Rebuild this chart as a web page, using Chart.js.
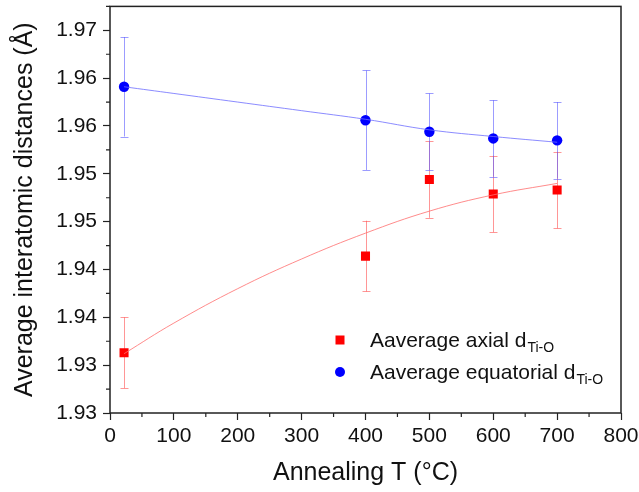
<!DOCTYPE html>
<html>
<head>
<meta charset="utf-8">
<script src="https://cdn.jsdelivr.net/npm/chart.js@4.4.1/dist/chart.umd.min.js"></script>
<style>
  html, body { margin: 0; padding: 0; background: #fff; }
  #wrap { width: 639px; height: 492px; }
</style>
</head>
<body>
<div id="wrap"><canvas id="chart" width="639" height="492"></canvas></div>
<script>
// waarden
const temps = [22, 400, 500, 600, 700];
const axial = [1.9313, 1.9414, 1.9494, 1.9479, 1.9483];
const axialErr = [0.0037, 0.0037, 0.0040, 0.0040, 0.0040];
const equatorial = [1.9591, 1.9556, 1.9544, 1.9537, 1.9535];
const equatorialErr = [0.0052, 0.0052, 0.0040, 0.0040, 0.0040];

// fit-lijnen
const fitT = [22, 100, 200, 300, 400, 500, 600, 700];
const axialFit = [1.9312, 1.9344, 1.9380, 1.9411, 1.9438, 1.9461, 1.9478, 1.9490];
const equatorialFit = [1.9591, 1.9584, 1.9575, 1.9566, 1.9557, 1.9546, 1.9539, 1.9533];

// as-labels
const yTickValues = [1.925, 1.930, 1.935, 1.940, 1.945, 1.950, 1.955, 1.960, 1.965];
const yTickLabels = ['1.93', '1.93', '1.94', '1.94', '1.95', '1.95', '1.96', '1.96', '1.97'];
const xTickValues = [0, 100, 200, 300, 400, 500, 600, 700, 800];

const legendItems = [
  { text: 'Aaverage axial d', sub: 'Ti-O', color: '#ff0000', shape: 'rect' },
  { text: 'Aaverage equatorial d', sub: 'Ti-O', color: '#0000ff', shape: 'circle' }
];

const FONT = '"Liberation Sans", Arial, sans-serif';

function pts(xs, ys) {
  return xs.map((x, i) => ({ x: x, y: ys[i] }));
}

// foutbalken, kader, kleine streepjes en legenda
const extras = {
  id: 'extras',
  beforeDatasetsDraw(chart) {
    const c = chart.ctx;
    const xs = chart.scales.x, ys = chart.scales.y;
    const bars = [
      { vals: axial, err: axialErr, color: 'rgba(255,80,80,0.6)' },
      { vals: equatorial, err: equatorialErr, color: 'rgba(90,90,255,0.6)' }
    ];
    c.save();
    c.lineWidth = 1;
    bars.forEach(b => {
      c.strokeStyle = b.color;
      temps.forEach((t, i) => {
        const px = Math.round(xs.getPixelForValue(t)) + 0.5;
        const top = ys.getPixelForValue(b.vals[i] + b.err[i]);
        const bot = ys.getPixelForValue(b.vals[i] - b.err[i]);
        c.beginPath();
        c.moveTo(px, top); c.lineTo(px, bot);
        c.moveTo(px - 4, Math.round(top) + 0.5); c.lineTo(px + 4, Math.round(top) + 0.5);
        c.moveTo(px - 4, Math.round(bot) + 0.5); c.lineTo(px + 4, Math.round(bot) + 0.5);
        c.stroke();
      });
    });
    c.restore();
  },
  afterDraw(chart) {
    const c = chart.ctx;
    const a = chart.chartArea;
    const xs = chart.scales.x, ys = chart.scales.y;
    c.save();
    c.strokeStyle = '#222';
    c.lineWidth = 1.5;
    c.strokeRect(a.left, a.top, a.right - a.left, a.bottom - a.top);
    c.lineWidth = 1.2;
    c.beginPath();
    for (let i = 0; i < xTickValues.length - 1; i++) {
      const px = xs.getPixelForValue(xTickValues[i] + 50);
      c.moveTo(px, a.bottom); c.lineTo(px, a.bottom + 4);
    }
    for (let i = 0; i < yTickValues.length; i++) {
      const v = yTickValues[i] + 0.0025;
      if (v > ys.max) continue;
      const py = ys.getPixelForValue(v);
      c.moveTo(a.left, py); c.lineTo(a.left - 4, py);
    }
    c.stroke();

    const lx = 340, ly = [340, 372];
    legendItems.forEach((it, i) => {
      c.fillStyle = it.color;
      if (it.shape === 'rect') {
        c.fillRect(lx - 4.5, ly[i] - 4.5, 9, 9);
      } else {
        c.beginPath(); c.arc(lx, ly[i], 5, 0, Math.PI * 2); c.fill();
      }
      c.fillStyle = '#111';
      c.textBaseline = 'alphabetic';
      c.textAlign = 'left';
      c.font = '21px ' + FONT;
      c.fillText(it.text, 370, ly[i] + 7);
      const w = c.measureText(it.text).width;
      c.font = '14px ' + FONT;
      c.fillText(it.sub, 370 + w + 1, ly[i] + 12);
    });
    c.restore();
  }
};

new Chart(document.getElementById('chart'), {
  type: 'scatter',
  data: {
    datasets: [
      {
        type: 'line',
        data: pts(fitT, axialFit),
        borderColor: 'rgba(255,110,110,0.8)',
        borderWidth: 1,
        pointRadius: 0,
        tension: 0.4
      },
      {
        type: 'line',
        data: pts(fitT, equatorialFit),
        borderColor: 'rgba(110,110,255,0.8)',
        borderWidth: 1,
        pointRadius: 0,
        tension: 0.4
      },
      {
        data: pts(temps, axial),
        pointStyle: 'rect',
        pointRadius: 6.4,
        backgroundColor: '#ff0000',
        borderColor: '#ff0000',
        borderWidth: 0
      },
      {
        data: pts(temps, equatorial),
        pointStyle: 'circle',
        pointRadius: 5.2,
        backgroundColor: '#0000ff',
        borderColor: '#0000ff',
        borderWidth: 0
      }
    ]
  },
  options: {
    responsive: false,
    animation: false,
    layout: { padding: { top: 4, right: 18, left: 0, bottom: 0 } },
    plugins: { legend: { display: false }, tooltip: { enabled: false } },
    scales: {
      x: {
        type: 'linear',
        min: 0, max: 800,
        afterFit(s) { s.height = 79; s.paddingLeft = 0; s.paddingRight = 0; },
        afterBuildTicks(s) { s.ticks = xTickValues.map(v => ({ value: v })); },
        grid: { drawOnChartArea: false, tickLength: 7, color: '#222', tickWidth: 1.2 },
        border: { display: false },
        ticks: { color: '#111', font: { family: FONT, size: 21 }, padding: 4, maxRotation: 0 },
        title: { display: true, text: 'Annealing T (°C)', color: '#111', font: { family: FONT, size: 25 }, padding: { top: 6 } }
      },
      y: {
        type: 'linear',
        min: 1.925, max: 1.9675,
        afterFit(s) { s.width = 110; s.paddingTop = 0; s.paddingBottom = 0; },
        afterBuildTicks(s) { s.ticks = yTickValues.map(v => ({ value: v })); },
        grid: { drawOnChartArea: false, tickLength: 7, color: '#222', tickWidth: 1.2 },
        border: { display: false },
        ticks: {
          color: '#111', font: { family: FONT, size: 21 }, padding: 6,
          callback: (v, i) => yTickLabels[i]
        },
        title: { display: true, text: 'Average interatomic distances (Å)', color: '#111', font: { family: FONT, size: 25 }, padding: { top: 10, bottom: 0 } }
      }
    }
  },
  plugins: [extras]
});
</script>
</body>
</html>
